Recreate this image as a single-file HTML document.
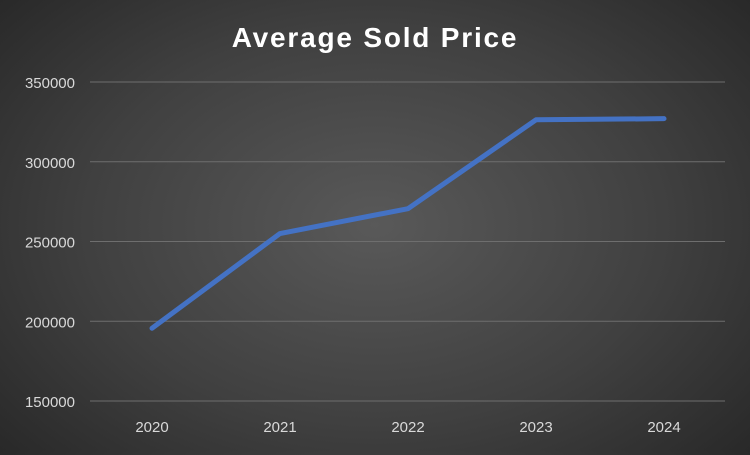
<!DOCTYPE html>
<html><head><meta charset="utf-8"><style>
html,body{margin:0;padding:0;}
body{width:750px;height:450px;overflow:hidden;background:radial-gradient(ellipse 70% 80% at 50% 50%,#595959 0%,#404040 55%,#262626 100%);font-family:"Liberation Sans",sans-serif;}
</style></head><body>
<svg id="chart" width="750" height="450" xmlns="http://www.w3.org/2000/svg">
<text x="375" y="47" text-anchor="middle" fill="#ffffff" font-size="28" font-weight="bold" letter-spacing="1.8" font-family="Liberation Sans, sans-serif">Average Sold Price</text>
<g id="grid"></g><g id="yt"></g><g id="xt"></g><g id="series"></g>
</svg>
<script>
const categories=["2020","2021","2022","2023","2024"];
const values=[195600,255000,270600,326300,327000];
const yTicks=[150000,200000,250000,300000,350000];
const plotL=90,plotR=725,bandW=128,firstX=152;
const yMin=150000,yMax=350000,yBot=401,yTop=82;
function x(i){return firstX+bandW*i;}
function y(v){return yBot-(v-yMin)/(yMax-yMin)*(yBot-yTop);}
const NS="http://www.w3.org/2000/svg";
const grid=document.getElementById('grid'),yt=document.getElementById('yt'),xt=document.getElementById('xt'),ser=document.getElementById('series');
yTicks.forEach(t=>{
 const l=document.createElementNS(NS,'line');
 
 
 l.setAttribute('x1',plotL);l.setAttribute('x2',plotR);l.setAttribute('y1',y(t));l.setAttribute('y2',y(t));
 l.setAttribute('stroke','#6e6e6e');l.setAttribute('stroke-width','1');
 grid.appendChild(l);
 const tx=document.createElementNS(NS,'text');
 
 
 tx.setAttribute('x',75);tx.setAttribute('y',y(t)+6);tx.setAttribute('text-anchor','end');
 tx.setAttribute('fill','#d9d9d9');tx.setAttribute('font-size','15');
 tx.textContent=t;yt.appendChild(tx);
});
categories.forEach((c,i)=>{
 const tx=document.createElementNS(NS,'text');
 
 
 tx.setAttribute('x',x(i));tx.setAttribute('y',432);tx.setAttribute('text-anchor','middle');
 tx.setAttribute('fill','#d9d9d9');tx.setAttribute('font-size','15');
 tx.textContent=c;xt.appendChild(tx);
});
const p=document.createElementNS(NS,'polyline');


p.setAttribute('points',values.map((v,i)=>x(i)+','+y(v)).join(' '));
p.setAttribute('fill','none');p.setAttribute('stroke','#4472c4');p.setAttribute('stroke-width','5');
p.setAttribute('stroke-linejoin','round');p.setAttribute('stroke-linecap','round');
ser.appendChild(p);
</script>
</body></html>
